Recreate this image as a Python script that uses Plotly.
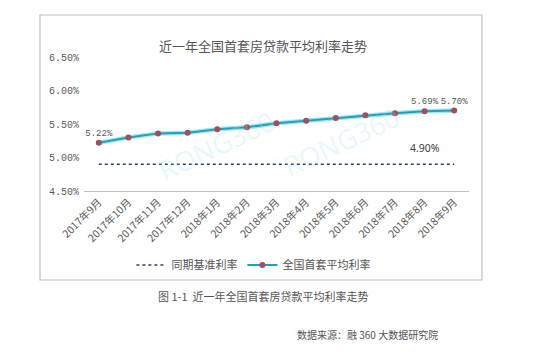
import plotly.graph_objects as go

categories = ["2017年9月", "2017年10月", "2017年11月", "2017年12月", "2018年1月", "2018年2月",
              "2018年3月", "2018年4月", "2018年5月", "2018年6月", "2018年7月", "2018年8月", "2018年9月"]
avg_rate = [5.22, 5.30, 5.36, 5.37, 5.42, 5.45, 5.51, 5.55, 5.59, 5.63, 5.66, 5.69, 5.70]
base_rate = [4.90] * 13
avg_labels = ["5.22%", "", "", "", "", "", "", "", "", "", "", "5.69%", "5.70%"]
y_ticks = [4.5, 5.0, 5.5, 6.0, 6.5]
y_tick_text = ["4.50%", "5.00%", "5.50%", "6.00%", "6.50%"]

CJK = "Noto Sans CJK SC"
MONO = "Liberation Mono"

fig = go.Figure()
fig.add_trace(go.Scatter(
    x=categories, y=base_rate, mode="lines", name="同期基准利率",
    line=dict(color="#2e3f6e", width=1.6, dash="dot"),
))
fig.add_trace(go.Scatter(
    x=categories, y=avg_rate, mode="lines", showlegend=False, hoverinfo="skip",
    line=dict(color="#9fe6f3", width=4.5),
))
fig.add_trace(go.Scatter(
    x=categories, y=avg_rate, mode="lines+markers+text", name="全国首套平均利率",
    line=dict(color="#2a9db6", width=2),
    marker=dict(color="#a0505a", size=6),
    text=avg_labels, textposition="top center",
    textfont=dict(family=MONO, size=9, color="#595959"),
))

fig.add_annotation(x=categories[11], y=base_rate[11], xref="x", yref="y", text="4.90%",
                   showarrow=False, yshift=16,
                   font=dict(family="Noto Sans", size=10.5, color="#404040"))

# watermarks
for wx, wy in [(0.17, 0.34), (0.84, 0.37)]:
    fig.add_annotation(x=wx, y=wy, xref="paper", yref="paper", text="RONG360",
                       showarrow=False, textangle=-25,
                       font=dict(family="Noto Sans", size=27, color="rgba(160,225,238,0.25)"))

fig.add_annotation(x=0.465, y=1.1716, xref="paper", yref="paper", text="近一年全国首套房贷款平均利率走势",
                   showarrow=False, font=dict(family=CJK, size=13, color="#555555"))
fig.add_annotation(x=0.465, y=-0.858, xref="paper", yref="paper", text="图 1-1  近一年全国首套房贷款平均利率走势",
                   showarrow=False, font=dict(family=CJK, size=11, color="#555555"))
fig.add_annotation(x=0.925, y=-1.142, xref="paper", yref="paper", text="数据来源：融 360 大数据研究院",
                   showarrow=False, font=dict(family=CJK, size=10, color="#555555"))

fig.add_shape(type="rect", xref="paper", yref="paper", x0=-0.1143, x1=1.0338, y0=-0.664, y1=1.3134,
              line=dict(color="#bfbfbf", width=1.2))

fig.update_layout(
    width=544, height=349,
    margin=dict(l=76, r=83, t=49, b=166),
    paper_bgcolor="white", plot_bgcolor="white",
    showlegend=True,
    legend=dict(orientation="h", x=0.44, xanchor="center", y=-0.552, yanchor="middle",
                font=dict(family=CJK, size=11, color="#555555"), bgcolor="rgba(0,0,0,0)"),
    xaxis=dict(type="category", range=[-0.5, 12.5], showline=True, linecolor="#bfbfbf", linewidth=1,
               showgrid=False, ticks="", tickangle=-45, automargin=False,
               tickfont=dict(family=CJK, size=10.5, color="#595959")),
    yaxis=dict(range=[4.5, 6.5], tickvals=y_ticks, ticktext=y_tick_text, showgrid=False,
               zeroline=False, showline=False, ticks="", automargin=False, ticklabelstandoff=4,
               tickfont=dict(family=MONO, size=10, color="#595959")),
)

fig.write_html("out.html")
